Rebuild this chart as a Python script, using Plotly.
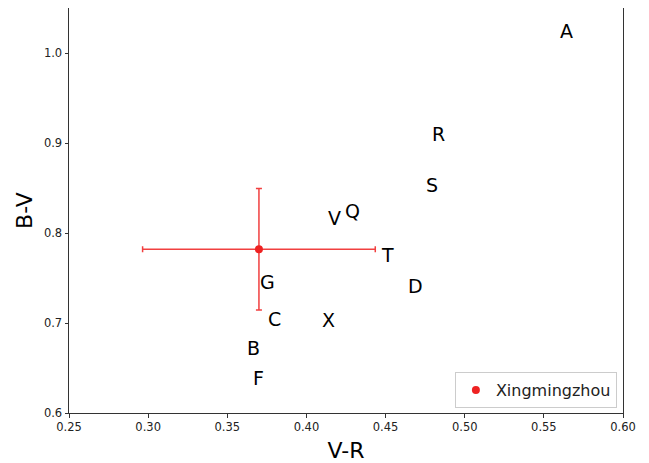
import plotly.graph_objects as go

# Label positions (left-baseline of each letter) in data coordinates
labels = ["A", "R", "S", "V", "Q", "T", "G", "D", "C", "X", "B", "F"]
label_x = [0.561, 0.480, 0.476, 0.414, 0.425, 0.448, 0.371, 0.465, 0.3765, 0.4105, 0.363, 0.367]
label_y = [1.017, 0.9025, 0.846, 0.8094, 0.8172, 0.7673, 0.7374, 0.733, 0.6964, 0.6953, 0.6643, 0.631]

# Measured point with error bars
point_name = "Xingmingzhou"
point_x = [0.370]
point_y = [0.782]
point_xerr = [0.0735]
point_yerr = [0.0675]

x_ticks = [0.25, 0.30, 0.35, 0.40, 0.45, 0.50, 0.55, 0.60]
y_ticks = [0.6, 0.7, 0.8, 0.9, 1.0]

red = "rgba(238,30,30,0.85)"
font_family = "DejaVu Sans"

fig = go.Figure()
fig.add_trace(go.Scatter(
    x=point_x, y=point_y, mode="markers", name=point_name,
    marker=dict(color="#ee2222", size=8),
    error_x=dict(type="data", array=point_xerr, visible=True, color=red, thickness=1.5, width=3),
    error_y=dict(type="data", array=point_yerr, visible=True, color=red, thickness=1.5, width=3),
    showlegend=True,
))

for t, x, y in zip(labels, label_x, label_y):
    fig.add_annotation(x=x, y=y, text=t, showarrow=False, xanchor="left", yanchor="bottom",
                       xshift=-2, yshift=-5, borderpad=0,
                       font=dict(family=font_family, size=19, color="black"))

axis_common = dict(showline=True, mirror=True, linecolor="#333", linewidth=1,
                   ticks="outside", ticklen=3.5, tickwidth=1, tickcolor="#333",
                   showgrid=False, zeroline=False,
                   tickfont=dict(family=font_family, size=11.5, color="#222"))

fig.update_xaxes(range=[0.25, 0.60], tickvals=x_ticks,
                 ticktext=[f"{v:.2f}" for v in x_ticks],
                 title=dict(text="V-R", font=dict(family=font_family, size=22, color="black"), standoff=9),
                 **axis_common)
fig.update_yaxes(range=[0.6, 1.05], tickvals=y_ticks,
                 ticktext=[f"{v:.1f}" for v in y_ticks],
                 title=dict(text="B-V", font=dict(family=font_family, size=22, color="black"), standoff=5),
                 **axis_common)

fig.update_layout(
    width=641, height=455,
    margin=dict(l=61, r=26, t=0, b=50),
    plot_bgcolor="white", paper_bgcolor="white",
    font=dict(family=font_family),
    legend=dict(x=0.989, y=0.012, xanchor="right", yanchor="bottom",
                bordercolor="#cccccc", borderwidth=1, bgcolor="rgba(255,255,255,0.8)",
                font=dict(family=font_family, size=16, color="#222")),
)

fig.write_html("out.html")
